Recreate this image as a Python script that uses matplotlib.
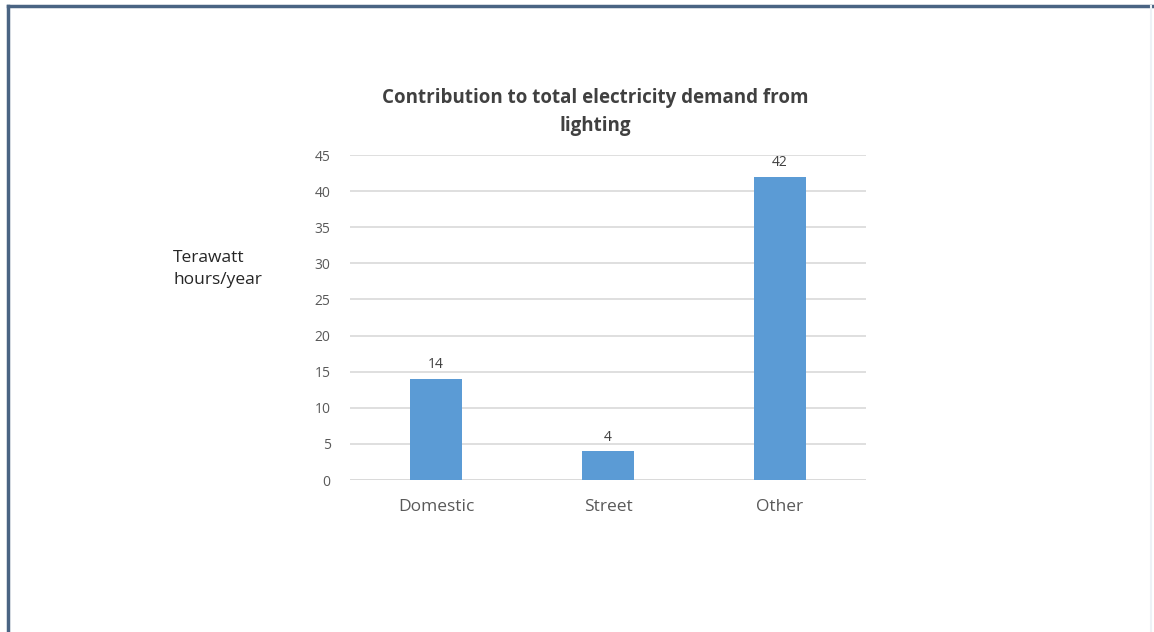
import matplotlib.pyplot as plt
from matplotlib.lines import Line2D

categories = ['Domestic', 'Street', 'Other']
demand = [14, 4, 42]
yticks = [0, 5, 10, 15, 20, 25, 30, 35, 40, 45]

plt.rcParams['font.family'] = ['Open Sans', 'DejaVu Sans']

fig = plt.figure(figsize=(11.54, 6.32), dpi=100)
ax = fig.add_axes([0.3033, 0.2405, 0.4471, 0.5142])

x = range(len(categories))
bars = ax.bar(x, demand, width=0.3, color='#5b9bd5', zorder=3)
for b, v in zip(bars, demand):
    ax.text(b.get_x() + b.get_width() / 2, v + 0.9, str(v), ha='center', va='bottom',
            fontsize=10, color='#404040')

ax.set_xlim(-0.5, 2.5)
ax.set_ylim(0, 45)
ax.set_yticks(yticks)
ax.set_xticks(list(x))
ax.set_xticklabels(categories, fontsize=12.5, color='#595959')
ax.tick_params(axis='y', labelsize=10, colors='#595959', length=0, pad=14)
ax.tick_params(axis='x', length=0, pad=14)
ax.grid(axis='y', color='#d9d9d9', linewidth=1.2, zorder=0)
for s in ax.spines.values():
    s.set_visible(False)
ax.axhline(0, color='#d9d9d9', linewidth=1.2, zorder=1)

fig.text(0.5156, 0.823, 'Contribution to total electricity demand from\nlighting',
         ha='center', va='center', fontsize=13.5, fontweight='bold', color='#404040',
         linespacing=1.55)
fig.text(0.150, 0.575, 'Terawatt\nhours/year', ha='left', va='center', fontsize=12.5,
         color='#262626', linespacing=1.5)

# slide frame
fig.add_artist(Line2D([0.0065, 0.9985], [0.9905, 0.9905], transform=fig.transFigure,
                      color='#4a6483', linewidth=2.5))
fig.add_artist(Line2D([0.0072, 0.0072], [0.0, 0.9905], transform=fig.transFigure,
                      color='#4a6483', linewidth=2.5))
fig.add_artist(Line2D([0.997, 0.997], [0.0, 0.9905], transform=fig.transFigure,
                      color='#eef2f6', linewidth=1.5))

fig.savefig('out.png', dpi=100)
